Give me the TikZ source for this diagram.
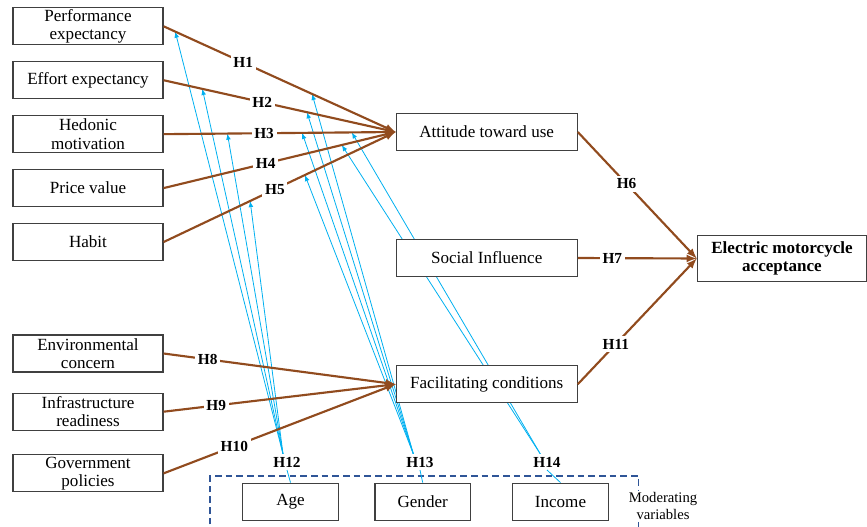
\documentclass[tikz,border=0pt]{standalone}
\usepackage{fontspec}
\setmainfont{Liberation Serif}
\usetikzlibrary{positioning}
\usetikzlibrary{shapes}
\usetikzlibrary{arrows}
\pgfdeclarelayer{sotto}
\pgfsetlayers{sotto,main}
\definecolor{marrone}{RGB}{145,75,30}
\definecolor{azzurro}{RGB}{0,176,240}
\definecolor{tratteggio}{RGB}{47,85,151}

\begin{document}
\begin{tikzpicture}[x=0.75pt,y=-0.75pt,align=center,node distance=11.8pt,
every node/.style={font=\fontsize{12.8}{13.8}\selectfont},
factor/.style={draw=black!75,line width=0.9pt,fill=white,minimum width=112.5pt,minimum height=27.75pt,inner sep=0pt},
factorT/.style={inner sep=0pt,anchor=center},
construct/.style={factor,minimum width=135.75pt},
moderator/.style={factor,minimum width=71.5pt},
hypo/.style={fill=white,inner sep=2pt,font=\fontsize{11.5}{13}\selectfont\bfseries},
relation/.style={draw=marrone,line width=1.6pt,-latex},
moderation/.style={draw=azzurro,line width=0.6pt,-latex}
]
\useasboundingbox (0,0) rectangle (867,527);
%--
\node[factor](pe) at (88,26.3){}; \node[factorT] at (pe.center){Performance\\expectancy};
\node[factor,below = of pe](ee){Effort expectancy};
\node[factor,below = of ee](hm){}; \node[factorT] at (hm.center){Hedonic\\motivation};
\node[factor,below = of hm](pv){Price value};
\node[factor,below = of pv](hab){Habit};
%--
\node[factor](ec) at (88,353.5){}; \node[factorT] at (ec.center){Environmental\\concern};
\node[factor,below = 15pt of ec](ir){}; \node[factorT] at (ir.center){Infrastructure\\readiness};
\node[factor,below = 17.6pt of ir](gp){}; \node[factorT] at (gp.center){Government\\policies};
%--
\node[construct](att) at (486.7,132){Attitude toward use};
\node[construct](si) at (486.7,258){Social Influence};
\node[construct](fc) at (486.7,384.2){Facilitating conditions};
\node[factor,minimum width=127pt,minimum height=34.8pt,font=\fontsize{12.8}{13.5}\selectfont\bfseries](ema) at (782,258.5){Electric motorcycle\\acceptance};
%--
\draw[tratteggio,dashed,dash pattern=on 5pt off 3pt,line width=0.8pt] (210,535) |- (638.5,476) -- (638.5,535);
\node[fill=white,inner sep=1pt,font=\fontsize{11}{12.5}\selectfont](modv) at (663,506){Moderating\\variables};
\node[moderator](age) at (290.5,501.7){Age};
\node[moderator](gen) at (422.7,501.7){Gender};
\node[moderator](inc) at (560.5,501.7){Income};
\node[hypo](h12) at (287,462){H12};
\node[hypo](h13) at (420,462){H13};
\node[hypo](h14) at (547,462){H14};
%--
\draw[relation] (pe.east) -- coordinate[pos=0.05](a1) coordinate[pos=0.64](g1) node[hypo,pos=0.343]{H1} (att.west);
\draw[relation] (ee.east) -- coordinate[pos=0.167](a2) coordinate[pos=0.618](g2) node[hypo,pos=0.425]{H2} (att.west);
\draw[relation] (hm.east) -- coordinate[pos=0.275](a3) coordinate[pos=0.597](g3) coordinate[pos=0.811](i3) node[hypo,pos=0.433]{H3} (att.west);
\draw[relation] (pv.east) -- coordinate[pos=0.768](i4) node[hypo,pos=0.44]{H4} (att.west);
\draw[relation] (hab.east) -- coordinate[pos=0.373](a5) coordinate[pos=0.609](g5) node[hypo,pos=0.48]{H5} (att.west);
%--
\draw[relation] (att.east) -- node[hypo,pos=0.41]{H6} (ema.west);
\draw[relation] (si.east) -- node[hypo,pos=0.29]{H7} (ema.west);
\draw[relation] (fc.east) -- node[hypo,pos=0.32]{H11} (ema.west);
%--
\draw[relation] (ec.east) -- node[hypo,pos=0.19]{H8} (fc.west);
\draw[relation] (ir.east) -- node[hypo,pos=0.227]{H9} (fc.west);
\draw[relation] (gp.east) -- node[hypo,pos=0.305]{H10} (fc.west);
%-- moderating links
\begin{pgfonlayer}{sotto}
\draw[moderation] ([xshift=-3pt]h12.north) -- (a1);
\draw[moderation] ([xshift=-3pt]h12.north) -- (a2);
\draw[moderation] ([xshift=-3pt]h12.north) -- (a3);
\draw[moderation] ([xshift=-3pt]h12.north) -- (a5);
\draw[moderation] ([xshift=-5pt]h13.north) -- (g1);
\draw[moderation] ([xshift=-5pt]h13.north) -- (g2);
\draw[moderation] ([xshift=-5pt]h13.north) -- (g3);
\draw[moderation] ([xshift=-5pt]h13.north) -- (g5);
\draw[moderation] ([xshift=-5pt]h14.north) -- (i3);
\draw[moderation] ([xshift=-5pt]h14.north) -- (i4);
\end{pgfonlayer}
\draw[moderation,-] (age.north) -- (h12.south);
\draw[moderation,-] (gen.north) -- (h13.south);
\draw[moderation,-] (inc.north) -- (h14.south);
\end{tikzpicture}
\end{document}
